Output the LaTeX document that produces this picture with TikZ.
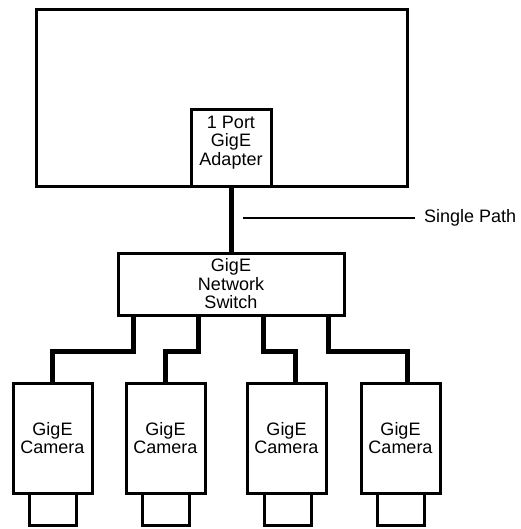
\documentclass[tikz,border=0pt]{standalone}
\usepackage{fontspec}
\setmainfont{Liberation Sans}
\begin{document}
\begin{tikzpicture}[x=1pt,y=-1pt,
  box/.style={draw=black,line width=3pt,fill=white,inner sep=0pt,align=center,
    font=\fontsize{18}{18.5}\selectfont},
  cable/.style={line width=5pt,line join=miter,line cap=rect},
  thin/.style={line width=1.3pt}]
\useasboundingbox (0,0) rectangle (520,529);
\node[box,minimum width=371pt,minimum height=177pt] (host) at (221.5,98.5) {};
\node[box,minimum width=80pt,minimum height=77pt] (adp) at (231,148.5) {1 Port\\GigE\\Adapter\\[-8pt]\strut};
\node[box,minimum width=226pt,minimum height=62pt] (sw) at (231,284) {GigE\\Network\\Switch};
\foreach \i/\x/\lx in {1/52.5/52.5,2/165.5/165.5,3/286.5/287.5,4/400.5/400.5}{
  \node[box,minimum width=47pt,minimum height=32pt] (l\i) at (\lx,509) {};
  \node[box,minimum width=79pt,minimum height=110pt] (c\i) at (\x,438) {GigE\\Camera};
}
\draw[cable] (adp.south) -- (sw.north);
\draw[cable] ([xshift=-98pt]sw.south) -- ++(0,35) -| (c1.north);
\draw[cable] ([xshift=-33pt]sw.south) -- ++(0,35) -| (c2.north);
\draw[cable] ([xshift=32pt]sw.south) -- ++(0,35) -| ([xshift=8.5pt]c3.north);
\draw[cable] ([xshift=97pt]sw.south) -- ++(0,35) -| ([xshift=6.5pt]c4.north);
\coordinate (sp) at (243,218);
\node[anchor=west,inner sep=0pt,font=\fontsize{18}{18.5}\selectfont] (lbl) at (424,218) {Single Path};
\draw[thin] (sp) -- ([xshift=-9pt]lbl.west);
\end{tikzpicture}
\end{document}
